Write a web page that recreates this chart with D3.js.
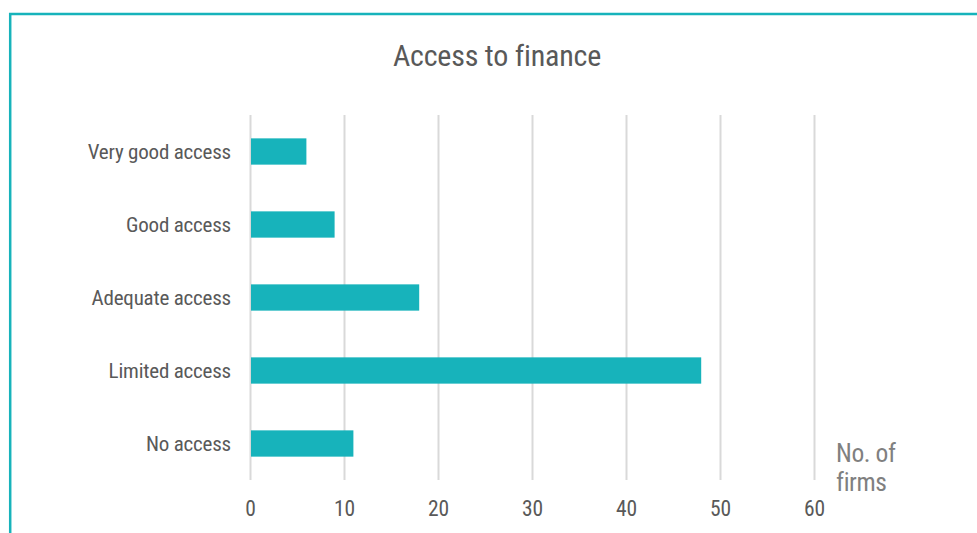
<!DOCTYPE html>
<html>
<head>
<meta charset="utf-8">
<script src="https://cdn.jsdelivr.net/npm/d3@7"></script>
<style>
  html, body { margin: 0; padding: 0; background: #fff; }
  svg { display: block; }
  text { font-family: "Liberation Sans Narrow", "Roboto Condensed", "Arial Narrow", sans-serif; }
</style>
</head>
<body>
<svg id="chart" width="977" height="533"></svg>
<script>
// Survey responses: how firms rate their access to finance
const categories = ["Very good access", "Good access", "Adequate access", "Limited access", "No access"];
const firms = [6, 9, 18, 48, 11];
const xTicks = [0, 10, 20, 30, 40, 50, 60];
const title = "Access to finance";
const axisUnit = ["No. of", "firms"];

const W = 977, H = 533;
const margin = { left: 250, right: W - 814, top: 115, bottom: H - 480 };
const teal = "#17b3bb";

const svg = d3.select("#chart");

// frame: top and left rules
svg.append("line").attr("x1", 9).attr("x2", W).attr("y1", 14).attr("y2", 14)
  .attr("stroke", teal).attr("stroke-width", 2.5);
svg.append("line").attr("x1", 10.2).attr("x2", 10.2).attr("y1", 13).attr("y2", H)
  .attr("stroke", teal).attr("stroke-width", 2.5);

const x = d3.scaleLinear().domain([0, 60]).range([margin.left, W - margin.right]);
const y = d3.scaleBand().domain(categories)
  .range([margin.top, H - margin.bottom])
  .paddingInner(0.64).paddingOuter(0.32);

// vertical gridlines + tick labels
const xAxis = d3.axisBottom(x).tickValues(xTicks).tickSize(-(H - margin.top - margin.bottom)).tickPadding(0);
const gx = svg.append("g").attr("transform", `translate(0,${H - margin.bottom})`).call(xAxis);
gx.select(".domain").remove();
gx.selectAll(".tick line").attr("stroke", "#d9d9d9").attr("stroke-width", 2);
gx.selectAll(".tick text").attr("fill", "#595959").attr("font-size", 21.5)
  .attr("dy", null).attr("y", 36);

// bars
svg.append("g").selectAll("rect").data(categories).join("rect")
  .attr("x", x(0) + 1)
  .attr("y", d => y(d))
  .attr("width", (d, i) => x(firms[i]) - x(0) - 1)
  .attr("height", y.bandwidth())
  .attr("fill", teal);

// category labels
svg.append("g").selectAll("text").data(categories).join("text")
  .attr("x", 231)
  .attr("y", d => y(d) + y.bandwidth() / 2 + 7.5)
  .attr("text-anchor", "end")
  .attr("fill", "#595959")
  .attr("font-size", 21)
  .attr("letter-spacing", -0.2)
  .text(d => d);

// title
svg.append("text").attr("x", 497).attr("y", 66).attr("text-anchor", "middle")
  .attr("fill", "#595959").attr("font-size", 30).attr("letter-spacing", -0.2).text(title);

// axis unit
svg.append("g").selectAll("text").data(axisUnit).join("text")
  .attr("x", 836).attr("y", (d, i) => 461.5 + i * 29)
  .attr("fill", "#808080").attr("font-size", 25.5).attr("letter-spacing", -0.4)
  .text(d => d);
</script>
</body>
</html>
